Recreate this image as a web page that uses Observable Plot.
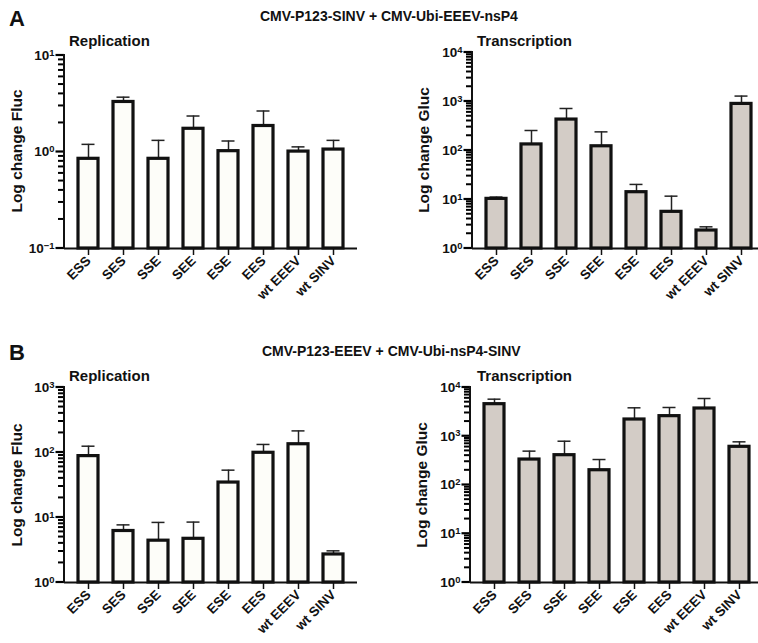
<!DOCTYPE html>
<html>
<head>
<meta charset="utf-8">
<script src="https://cdn.jsdelivr.net/npm/d3@7"></script>
<script src="https://cdn.jsdelivr.net/npm/@observablehq/plot@0.6"></script>
<style>
  html, body { margin: 0; padding: 0; background: #fff; }
  body { width: 758px; height: 643px; overflow: hidden; position: relative;
         font-family: "Liberation Sans", Arial, sans-serif; font-weight: bold; color: #111; }
  .abs { position: absolute; white-space: nowrap; }
  .letter { font-size: 22px; }
  .hdr { font-size: 14px; }
  .ttl { font-size: 15px; }
  .ylab { font-size: 15.5px; transform: translate(-50%, -50%) rotate(-90deg); }
  .panel { position: absolute; }
  .panel svg { max-width: none !important; }
</style>
</head>
<body>
<script>
// ---- data ----
const categories = ["ESS", "SES", "SSE", "SEE", "ESE", "EES", "wt EEEV", "wt SINV"];

const aReplication      = [0.85, 3.3, 0.85, 1.74, 1.02, 1.86, 1.01, 1.06];
const aReplicationErr   = [1.2, 3.7, 1.32, 2.36, 1.3, 2.66, 1.13, 1.32];
const aTranscription    = [10.3, 133, 428, 122, 14.1, 5.6, 2.33, 893];
const aTranscriptionErr = [11.2, 256, 720, 240, 20.3, 11.7, 2.77, 1290];

const bReplication      = [88, 6.2, 4.4, 4.7, 34.5, 99, 134, 2.7];
const bReplicationErr   = [125, 7.7, 8.4, 8.5, 53.5, 133, 215, 3.07];
const bTranscription    = [4550, 333, 409, 201, 2206, 2584, 3710, 607];
const bTranscriptionErr = [5760, 495, 791, 333, 3830, 3890, 5945, 768];

const headerA = "CMV-P123-SINV + CMV-Ubi-EEEV-nsP4";
const headerB = "CMV-P123-EEEV + CMV-Ubi-nsP4-SINV";

// ---- helpers ----
const powFmt = d => "10^" + Math.round(Math.log10(d));

function addText(cls, text, left, top) {
  const el = document.createElement("div");
  el.className = "abs " + cls;
  el.textContent = text;
  el.style.left = left + "px";
  el.style.top = top + "px";
  document.body.appendChild(el);
  return el;
}

function panel({values, errs, domain, fill, axisX, topY, baseY}) {
  const ML = 60, MT = 10, MB = 80, MR = 10, plotW = 293;
  const plotH = baseY - topY;
  const data = categories.map((c, i) => ({cat: c, v: values[i], e: errs[i]}));
  const lo = Math.round(Math.log10(domain[0])), hi = Math.round(Math.log10(domain[1]));
  const major = d3.range(lo, hi + 1).map(k => Math.pow(10, k));
  const minor = [];
  for (let k = lo; k < hi; k++) for (let m = 2; m <= 9; m++) minor.push(m * Math.pow(10, k));

  const chart = Plot.plot({
    width: ML + plotW + MR,
    height: MT + plotH + MB,
    marginLeft: ML, marginTop: MT, marginBottom: MB, marginRight: MR,
    style: {fontFamily: "'Liberation Sans', Arial, sans-serif", fontSize: "13.5px", fontWeight: "bold", color: "#111", background: "transparent", overflow: "visible", maxWidth: "none"},
    x: {domain: categories, paddingInner: 0.43, paddingOuter: 0.38, label: null},
    y: {type: "log", domain, label: null},
    marks: [
      Plot.axisY(major, {tickSize: 0, tickPadding: 10, tickFormat: powFmt, fontSize: 13.5, label: null}),
      Plot.axisX({tickSize: 7, tickRotate: -45, tickPadding: 3, strokeWidth: 1.5, fontSize: 13.5}),
      Plot.ruleX(data, {x: "cat", y1: "v", y2: "e", stroke: "#222", strokeWidth: 1.5}),
      Plot.tickY(data, {x: "cat", y: "e", stroke: "#222", strokeWidth: 1.5, insetLeft: 3.5, insetRight: 3.5}),
      Plot.barY(data, {x: "cat", y1: domain[0], y2: "v", fill, stroke: "#111", strokeWidth: 3.2}),
      Plot.ruleY([domain[0]], {stroke: "#111", strokeWidth: 2})
    ]
  });
  chart.style.maxWidth = "none";
  const sx = chart.scale("x"), sy = chart.scale("y");
  const x0 = sx.range[0];
  const g = d3.select(chart).append("g");
  // y ticks placed through the chart's own y scale
  g.selectAll("line.minor").data(minor).join("line").attr("class", "minor")
    .attr("x1", x0 - 6).attr("x2", x0)
    .attr("y1", d => sy.apply(d)).attr("y2", d => sy.apply(d))
    .attr("stroke", "#000").attr("stroke-width", 2);
  g.selectAll("line.major").data(major).join("line").attr("class", "major")
    .attr("x1", x0 - 8.5).attr("x2", x0)
    .attr("y1", d => sy.apply(d)).attr("y2", d => sy.apply(d))
    .attr("stroke", "#000").attr("stroke-width", 2.2);
  // vertical axis line
  g.append("line")
    .attr("x1", x0).attr("x2", x0)
    .attr("y1", sy.range[0] + 1).attr("y2", sy.range[1] - 1.1)
    .attr("stroke", "#111").attr("stroke-width", 2);
  // power-of-ten labels with real superscripts
  d3.select(chart).selectAll("text").each(function () {
    const t = this.textContent;
    const m = /^10\^(-?\d+)$/.exec(t);
    if (!m) return;
    const sel = d3.select(this);
    sel.selectAll("*").remove();
    sel.text(null);
    sel.append("tspan").text("10");
    sel.append("tspan").attr("dy", "-0.45em").attr("font-size", "70%").text(m[1].replace("-", "\u2212"));
  });

  const wrap = document.createElement("div");
  wrap.className = "panel";
  wrap.style.left = (axisX - ML) + "px";
  wrap.style.top = (topY - MT) + "px";
  wrap.style.width = (ML + plotW + MR) + "px";
  wrap.appendChild(chart);
  document.body.appendChild(wrap);
}

// ---- panels ----
const repFill = "#fdfdf9", transFill = "#d3ccc6";

panel({values: aReplication, errs: aReplicationErr, domain: [0.1, 10], fill: repFill, axisX: 64, topY: 55, baseY: 248});
panel({values: aTranscription, errs: aTranscriptionErr, domain: [1, 10000], fill: transFill, axisX: 472, topY: 52, baseY: 248});
panel({values: bReplication, errs: bReplicationErr, domain: [1, 1000], fill: repFill, axisX: 64, topY: 387, baseY: 582});
panel({values: bTranscription, errs: bTranscriptionErr, domain: [1, 10000], fill: transFill, axisX: 470, topY: 387, baseY: 582});

// ---- texts ----
addText("letter", "A", 9, 6);
addText("letter", "B", 9, 340);
addText("hdr", headerA, 260, 8);
addText("hdr", headerB, 262, 343);
addText("ttl", "Replication", 69, 32);
addText("ttl", "Transcription", 477, 32);
addText("ttl", "Replication", 69, 367);
addText("ttl", "Transcription", 477, 367);
addText("ylab", "Log change Fluc", 17, 151);
addText("ylab", "Log change Gluc", 424, 150);
addText("ylab", "Log change Fluc", 17, 485);
addText("ylab", "Log change Gluc", 422, 485);
</script>
</body>
</html>
